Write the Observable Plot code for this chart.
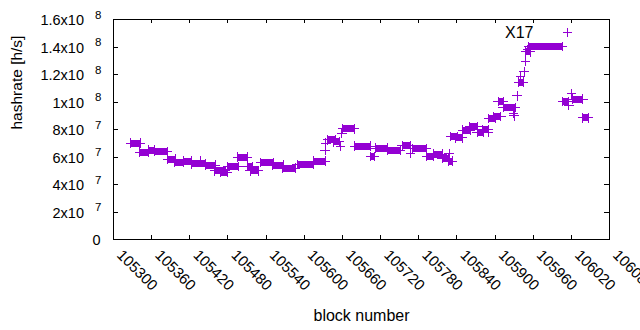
<!DOCTYPE html>
<html>
<head>
<meta charset="utf-8">
<script src="https://cdn.jsdelivr.net/npm/d3@7"></script>
<script src="https://cdn.jsdelivr.net/npm/@observablehq/plot@0.6"></script>
<style>
  html, body { margin: 0; padding: 0; background: #fff; }
  #chart { width: 640px; height: 330px; }
</style>
</head>
<body>
<div id="chart"></div>
<script>
// Runs of consecutive blocks with the same hashrate (first block, last block, hashrate h/s)
const runStart = [105327,105341,105355,105364,105385,105396,105410,105423,105437,105445,105459,105468,105479,105495,105511,105515,105531,105550,105566,105589,105615,105633,105634,105637,105646,105657,105659,105660,105679,105704,105712,105731,105754,105767,105770,105792,105803,105817,105828,105827,105830,105838,105849,105860,105872,105880,105890,105890,105898,105905,105913,105929,105930,105935,105937,105940,105946,105948,105948,105951,105953,106006,106016,106020,106022,106038];
const runEnd   = [105342,105355,105364,105385,105397,105410,105423,105445,105437,105460,105476,105479,105496,105511,105519,105528,105551,105567,105586,105615,105633,105633,105634,105649,105655,105657,105659,105679,105704,105710,105731,105751,105767,105767,105792,105803,105817,105827,105828,105833,105841,105849,105861,105872,105882,105890,105890,105901,105909,105913,105932,105929,105930,105935,105945,105940,105946,105948,105956,105951,106006,106016,106016,106020,106038,106047];
const runValue = [70e6,63.5e6,65e6,64e6,58.5e6,56e6,57e6,55e6,57e6,54e6,50e6,49e6,53e6,60e6,53e6,50e6,56e6,54e6,52e6,54.5e6,57e6,65e6,70e6,72.5e6,71e6,67.5e6,77e6,80.5e6,68e6,60.5e6,66.5e6,65e6,68.5e6,62.5e6,66e6,60.5e6,62e6,59e6,62.5e6,57e6,75e6,74e6,79.5e6,82e6,78e6,80e6,78e6,88e6,89.5e6,100.5e6,96e6,92e6,90e6,104.5e6,114.5e6,118.5e6,122e6,129.5e6,136.5e6,138e6,140.5e6,100.5e6,97.5e6,106e6,102e6,88.5e6];

const seriesName = "X17";
const xTicks = [105300,105360,105420,105480,105540,105600,105660,105720,105780,105840,105900,105960,106020,106080];
const xTickLabels = ["105300","105360","105420","105480","105540","105600","105660","105720","105780","105840","105900","105960","106020","106080"];
const yTicks = [0,2e7,4e7,6e7,8e7,1e8,1.2e8,1.4e8,1.6e8];
const yTickMantissa = ["0","2x10","4x10","6x10","8x10","1x10","1.2x10","1.4x10","1.6x10"];
const yTickExponent = ["","7","7","7","7","8","8","8","8"];

const color = "#9400d3";
const font = "'Liberation Sans', Arial, sans-serif";

const runs = runStart.map((s, i) => ({s, e: runEnd[i], v: runValue[i]}));
const ends = runs.flatMap(r => r.s === r.e ? [{b: r.s, v: r.v}] : [{b: r.s, v: r.v}, {b: r.e, v: r.v}]);
const yt = yTicks.map((y, i) => ({y, m: yTickMantissa[i], e: yTickExponent[i]}));
const xt = xTicks.map((x, i) => ({x, t: xTickLabels[i]}));

const W = 640, H = 330, mL = 113, mR = 31, mT = 19, mB = 91;
const fw = W - mL - mR, fh = H - mT - mB;

const plot = Plot.plot({
  width: W, height: H,
  marginLeft: mL, marginRight: mR, marginTop: mT, marginBottom: mB,
  style: {fontFamily: font, background: "#fff", overflow: "visible"},
  x: {domain: [105300, 106080], axis: null},
  y: {domain: [0, 1.6e8], axis: null},
  marks: [
    // tick marks (inward, mirrored)
    Plot.ruleY(yTicks, {y: d => d, insetRight: fw - 5, stroke: "#000", shapeRendering: "crispEdges"}),
    Plot.ruleY(yTicks, {y: d => d, insetLeft: fw - 5, stroke: "#000", shapeRendering: "crispEdges"}),
    Plot.ruleX(xTicks, {x: d => d, insetTop: fh - 4, stroke: "#000", shapeRendering: "crispEdges"}),
    Plot.ruleX(xTicks, {x: d => d, insetBottom: fh - 4, stroke: "#000", shapeRendering: "crispEdges"}),
    // y tick labels
    Plot.text(yt.filter(d => d.e), {y: "y", text: "m", frameAnchor: "left", textAnchor: "end", dx: -29.5, dy: 1, fontSize: 14.5}),
    Plot.text(yt.filter(d => d.e), {y: "y", text: "e", frameAnchor: "left", textAnchor: "start", dx: -18.5, dy: -4.5, fontSize: 11.5}),
    Plot.text(yt.filter(d => !d.e), {y: "y", text: "m", frameAnchor: "left", textAnchor: "end", dx: -13, dy: 1, fontSize: 14.5}),
    // x tick labels
    Plot.text(xt, {x: "x", text: "t", frameAnchor: "bottom", rotate: 45, textAnchor: "start", lineAnchor: "middle", dx: 6, dy: 13, fontSize: 15}),
    // axis titles
    Plot.text([0], {text: () => "hashrate [h/s]", frameAnchor: "left", rotate: -90, dx: -96, fontSize: 15.5}),
    Plot.text([0], {text: () => "block number", frameAnchor: "bottom", dy: 81, fontSize: 16}),
    // data
    Plot.ruleY(runs, {x1: "s", x2: "e", y: "v", stroke: color, strokeWidth: 7, shapeRendering: "crispEdges"}),
    Plot.dot(ends, {x: "b", y: "v", symbol: "plus", r: 3.2, stroke: color, strokeWidth: 1, shapeRendering: "crispEdges"}),
    // key
    Plot.text([seriesName], {text: d => d, frameAnchor: "top-right", textAnchor: "end", lineAnchor: "middle", dx: -76, dy: 13, fontSize: 16}),
    Plot.dot([seriesName], {frameAnchor: "top-right", symbol: "plus", r: 3.2, stroke: color, strokeWidth: 1, dx: -42, dy: 13, shapeRendering: "crispEdges"}),
    Plot.frame({stroke: "#000", shapeRendering: "crispEdges"})
  ]
});
document.getElementById("chart").appendChild(plot);
</script>
</body>
</html>
